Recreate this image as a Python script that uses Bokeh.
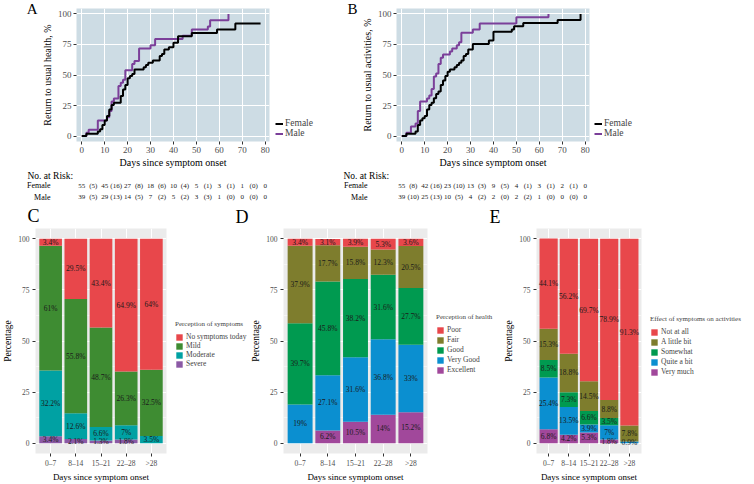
from bokeh.plotting import figure
from bokeh.models import (Range1d, FixedTicker, Legend, LegendItem, ColumnDataSource, LinearAxis)
from bokeh.layouts import column, row
from bokeh.embed import file_html
from bokeh.resources import INLINE
from bokeh.core.properties import value

FONT = "Liberation Serif"

# ---------------- data: Kaplan-Meier curves (cumulative %) ----------------
a_female_days = [0, 2, 7, 8, 9, 10, 11, 12, 13, 14, 17, 18, 19, 20, 21, 22, 23, 27, 28, 29, 31,
                 34, 35, 36, 38, 40, 42, 48, 59, 67, 78]
a_female_pct = [0, 1.8, 3.6, 5.5, 9.1, 12.7, 16.4, 21.8, 25.5, 27.3, 32.7, 38.2, 41.8, 47.3, 49.1,
                50.9, 54.5, 56.4, 58.2, 60.0, 61.8, 65.5, 67.3, 70.9, 72.7, 76.4, 81.8, 84.5, 87.3,
                92.2, 92.2]
a_male_days = [0, 2, 3, 7, 11, 12, 13, 14, 16, 17, 18, 19, 22, 23, 25, 30, 32, 44, 48, 55, 56, 64]
a_male_pct = [0, 2.6, 5.1, 12.8, 15.4, 20.5, 28.2, 30.8, 41.0, 43.6, 46.2, 53.8, 59.0, 61.5, 71.8,
              74.4, 79.5, 82.1, 87.2, 89.7, 94.9, 100]

b_female_days = [0, 2, 6, 7, 8, 9, 10, 11, 12, 13, 14, 15, 16, 17, 18, 19, 20, 21, 23, 24, 25, 26,
                 27, 28, 29, 31, 38, 40, 48, 49, 53, 68, 78]
b_female_pct = [0, 1.8, 3.6, 9.1, 12.7, 14.5, 16.4, 21.8, 25.5, 27.3, 30.9, 34.5, 36.4, 41.8, 45.5,
                49.1, 52.7, 54.5, 56.4, 58.2, 60.0, 61.8, 65.5, 67.3, 70.9, 75.4, 78.2, 85.5, 87.3,
                90.0, 92.7, 95.0, 100]
b_male_days = [0, 2, 4, 6, 7, 8, 11, 12, 13, 14, 15, 16, 17, 18, 21, 22, 24, 25, 26, 31, 34, 50, 64]
b_male_pct = [0, 2.6, 7.7, 10.3, 20.5, 28.2, 30.8, 33.3, 38.5, 48.7, 51.3, 59.0, 64.1, 66.7, 69.2,
              71.8, 74.4, 76.9, 84.6, 87.2, 92.3, 97.4, 100]

# numbers at risk (days 0,10,...,80) and events in brackets (days 5,15,...,75)
risk_days = [0, 10, 20, 30, 40, 50, 60, 70, 80]
event_days = [5, 15, 25, 35, 45, 55, 65, 75]
a_female_at_risk = [55, 45, 27, 18, 10, 5, 3, 1, 0]
a_female_events = [5, 16, 8, 6, 4, 1, 1, 0]
a_male_at_risk = [39, 29, 14, 7, 5, 3, 1, 0, 0]
a_male_events = [5, 13, 5, 2, 2, 3, 0, 0]
b_female_at_risk = [55, 42, 23, 13, 9, 4, 3, 2, 0]
b_female_events = [8, 16, 10, 3, 5, 1, 1, 1]
b_male_at_risk = [39, 25, 10, 4, 2, 2, 1, 0, 0]
b_male_events = [10, 13, 5, 2, 0, 2, 0, 0]

km_x_ticks = [0, 10, 20, 30, 40, 50, 60, 70, 80]
pct_ticks = [0, 25, 50, 75, 100]

# ---------------- data: stacked bars (bottom -> top) ----------------
day_groups = ["0\u20137", "8\u201314", "15\u201321", "22\u201328", ">28"]

sym_names = ["Severe", "Moderate", "Mild", "No symptoms today"]
sym_severe = [3.4, 2.1, 1.3, 1.8, 0]
sym_moderate = [32.2, 12.6, 6.6, 7.0, 3.5]
sym_mild = [61.0, 55.8, 48.7, 26.3, 32.5]
sym_none = [3.4, 29.5, 43.4, 64.9, 64.0]

hl_names = ["Excellent", "Very Good", "Good", "Fair", "Poor"]
hl_excellent = [0, 6.2, 10.5, 14.0, 15.2]
hl_verygood = [19.0, 27.1, 31.6, 36.8, 33.0]
hl_good = [39.7, 45.8, 38.2, 31.6, 27.7]
hl_fair = [37.9, 17.7, 15.8, 12.3, 20.5]
hl_poor = [3.4, 3.1, 3.9, 5.3, 3.6]

act_names = ["Very much", "Quite a bit", "Somewhat", "A little bit", "Not at all"]
act_verymuch = [6.8, 4.2, 5.3, 1.8, 0]
act_quiteabit = [25.4, 13.5, 3.9, 7.0, 0.9]
act_somewhat = [8.5, 7.3, 6.6, 3.5, 0]
act_littlebit = [15.3, 18.8, 14.5, 8.8, 7.8]
act_notatall = [44.1, 56.2, 69.7, 78.9, 91.3]

# ---------------- styles / geometry ----------------
RED = "#E8474B"
SYM_COLORS = ["#8B59A5", "#00A1A3", "#3E8C32", RED]
HL_COLORS = ["#A1489B", "#0B8FD0", "#009A50", "#7E7D2D", RED]
KM_BG = "#CDDCE4"
PURPLE = "#7B3F99"
TICK_COL = "#4D4D4D"

KM_XR = (-2.3, 81.9)
KM_YR = (-4.5, 104.5)
KM_FW, KM_FH = 193, 133
KM_TOP, KM_BOT = 8, 29
KM_H = KM_TOP + KM_FH + KM_BOT          # 170
RISK_H = 58
BAR_XR = (0.4, 5.6)
BAR_YR = (-5, 105)
BAR_FH, BAR_BOT = 230, 26
BAR_H = BAR_FH + BAR_BOT                # 256


def bare_figure(width, height, xr, yr):
    p = figure(width=width, height=height, x_range=xr, y_range=yr,
               output_backend="svg", toolbar_location=None,
               x_axis_location=None, y_axis_location=None,
               min_border=0, min_border_left=0, min_border_right=0,
               min_border_top=0, min_border_bottom=0)
    p.outline_line_color = None
    p.xgrid.visible = False
    p.ygrid.visible = False
    p.background_fill_color = "white"
    p.border_fill_color = "white"
    return p


def style_axes(p, tick_size, title_size, xlabel, ylabel):
    for ax in (p.xaxis[0], p.yaxis[0]):
        ax.axis_line_color = None
        ax.major_tick_line_color = "#333333"
        ax.major_tick_in = 0
        ax.major_tick_out = 3
        ax.minor_tick_line_color = None
        ax.major_label_text_font = FONT
        ax.major_label_text_font_size = tick_size
        ax.major_label_text_color = TICK_COL
        ax.major_label_standoff = 2
        ax.axis_label_text_font = FONT
        ax.axis_label_text_font_size = title_size
        ax.axis_label_text_font_style = "normal"
        ax.axis_label_text_color = "black"
        ax.axis_label_standoff = 2
    p.xaxis.axis_label = xlabel
    p.yaxis.axis_label = ylabel


def km_figure(left, f_days, f_pct, m_days, m_pct, ylabel, letter):
    p = figure(width=left + KM_FW + 2, height=KM_H, x_range=Range1d(*KM_XR),
               y_range=Range1d(*KM_YR), output_backend="svg", toolbar_location=None,
               min_border_left=left, min_border_right=2,
               min_border_top=KM_TOP, min_border_bottom=KM_BOT)
    p.background_fill_color = KM_BG
    p.outline_line_color = None
    p.xaxis.ticker = FixedTicker(ticks=km_x_ticks)
    p.yaxis.ticker = FixedTicker(ticks=pct_ticks)
    for g in (p.xgrid[0], p.ygrid[0]):
        g.grid_line_color = "white"
        g.grid_line_width = 1
    style_axes(p, "9px", "10px", "Days since symptom onset", ylabel)
    p.xaxis.axis_label_standoff = 1
    p.step(m_days, m_pct, mode="after", line_color=PURPLE, line_width=2)
    p.step(f_days, f_pct, mode="after", line_color="black", line_width=2)
    # panel letter as the single tick label of an outer, unlined axis
    p.extra_y_ranges = {"letter": Range1d(0, 1)}
    lax = LinearAxis(y_range_name="letter", ticker=FixedTicker(ticks=[1.0]),
                     major_label_overrides={1.0: letter})
    lax.axis_line_color = None
    lax.major_tick_line_color = None
    lax.minor_tick_line_color = None
    lax.major_label_text_font = FONT
    lax.major_label_text_font_size = "15px"
    lax.major_label_text_color = "black"
    lax.major_label_standoff = -5
    p.add_layout(lax, "left")
    return p


def km_legend_figure(width, dx):
    p = bare_figure(width, KM_H, Range1d(0, 1), Range1d(0, 1))
    # keys only: their data sit outside the (empty) view
    rf = p.line(x=[5, 6], y=[5, 5], line_color="black", line_width=2)
    rm = p.line(x=[5, 6], y=[5, 5], line_color=PURPLE, line_width=2)
    leg = Legend(items=[LegendItem(label="Female", renderers=[rf]),
                        LegendItem(label="Male", renderers=[rm])],
                 location=(dx, 3), padding=0, margin=0, spacing=0,
                 glyph_width=8, glyph_height=9, label_height=9, label_standoff=2,
                 label_text_font=FONT, label_text_font_size="9.5px",
                 background_fill_alpha=0, border_line_color=None)
    p.add_layout(leg)
    return p


def risk_figure(width, left, f_risk, f_ev, m_risk, m_ev, title_dx, lab_dx, letters):
    ppd = KM_FW / (KM_XR[1] - KM_XR[0])
    x0 = KM_XR[0] - left / ppd
    x1 = x0 + width / ppd
    p = bare_figure(width, RISK_H, Range1d(x0, x1), Range1d(RISK_H, 0))
    p.text(x=[KM_XR[0] + title_dx / ppd], y=[5], text=["No. at Risk:"], text_font=value(FONT),
           text_font_size="9.5px", text_align="left", text_baseline="middle", text_color="black")
    p.text(x=[KM_XR[0] + lab_dx / ppd] * 2, y=[15, 26.7], text=["Female", "Male"],
           text_font=value(FONT), text_font_size="8px", text_align="right",
           text_baseline="middle", text_color="black")
    for yy, rk, ev in ((15, f_risk, f_ev), (26.7, m_risk, m_ev)):
        xs = list(risk_days) + list(event_days)
        ts = [str(v) for v in rk] + ["(%d)" % v for v in ev]
        p.text(x=xs, y=[yy] * len(xs), text=ts, text_font=value(FONT), text_font_size="7px",
               text_align="center", text_baseline="middle", text_color="#1a1a1a")
    # letters of the panels below (x in px from this figure's left, centre y)
    for px, cy, t in letters:
        p.text(x=[x0 + px / ppd], y=[cy], text=[t], text_font=value(FONT),
               text_font_size="18px", text_align="left", text_baseline="middle",
               text_color="black")
    return p


def bar_figure(left, fw, series, colors):
    p = figure(width=left + fw + 2, height=BAR_H, x_range=Range1d(*BAR_XR),
               y_range=Range1d(*BAR_YR), output_backend="svg", toolbar_location=None,
               min_border_left=left, min_border_right=2,
               min_border_top=0, min_border_bottom=BAR_BOT)
    p.background_fill_color = "#EBEBEB"
    p.outline_line_color = None
    xs_cat = [1, 2, 3, 4, 5]
    p.xaxis.ticker = FixedTicker(ticks=xs_cat)
    p.xaxis.major_label_overrides = {i: g for i, g in zip(xs_cat, day_groups)}
    p.yaxis.ticker = FixedTicker(ticks=pct_ticks, minor_ticks=[12.5, 37.5, 62.5, 87.5])
    p.xgrid.grid_line_color = "white"
    p.ygrid.grid_line_color = "white"
    p.ygrid.minor_grid_line_color = "white"
    p.ygrid.minor_grid_line_width = 0.5
    style_axes(p, "7.5px", "9.5px", "Days since symptom onset", "Percentage")
    p.xaxis.axis_label_text_font_size = "9px"
    p.xaxis.axis_label_standoff = 1
    keys = ["s%d" % i for i in range(len(series))]
    data = {"x": xs_cat}
    for k, s in zip(keys, series):
        data[k] = s
    src = ColumnDataSource(data)
    p.vbar_stack(keys, x="x", width=0.9, fill_color=colors, line_color=None, source=src)
    lx, ly, lt = [], [], []
    for i in range(len(xs_cat)):
        base = 0.0
        for s in series:
            v = s[i]
            if v > 0:
                lx.append(xs_cat[i])
                ly.append(base + v / 2.0)
                lt.append("%g%%" % v)
            base += v
    p.text(x=lx, y=ly, text=lt, text_font=value(FONT), text_font_size="7.5px",
           text_align="center", text_baseline="middle", text_color="#1a1a1a")
    return p


def bar_legend_figure(width, names, colors, title, dx, bottom, spacing):
    p = bare_figure(width, BAR_H, Range1d(0, 1), Range1d(0, 1))
    # keys only: their data sit outside the (empty) view
    rs = [p.vbar(x=[5], top=[5], width=0.9, fill_color=c, line_color=None) for c in colors]
    items = [LegendItem(label=n, renderers=[r]) for n, r in zip(names, rs)][::-1]
    leg = Legend(items=items, title=title, location=(dx, bottom),
                 padding=0, margin=0, spacing=spacing,
                 glyph_width=8, glyph_height=8, label_height=8, label_standoff=3,
                 title_standoff=4,
                 label_text_font=FONT, label_text_font_size="7.5px",
                 title_text_font=FONT, title_text_font_size="7px",
                 title_text_font_style="normal",
                 background_fill_alpha=0, border_line_color=None)
    p.add_layout(leg)
    return p


kmA = km_figure(76, a_female_days, a_female_pct, a_male_days, a_male_pct,
                "Return to usual health, %", "A")            # 0 -> 271
legA = km_legend_figure(66, 4)                                # 271 -> 337
kmB = km_figure(59, b_female_days, b_female_pct, b_male_days, b_male_pct,
                "Return to usual activities, %", "B")         # 337 -> 591
legB = km_legend_figure(163, 3)                               # 591 -> 754

riskA = risk_figure(337, 76, a_female_at_risk, a_female_events, a_male_at_risk, a_male_events,
                    -49, -26, [(27, 45, "C"), (235, 46, "D")])
riskB = risk_figure(417, 59, b_female_at_risk, b_female_events, b_male_at_risk, b_male_events,
                    -53, -29, [(489 - 337, 46, "E")])

figC = bar_figure(32, 134, [sym_severe, sym_moderate, sym_mild, sym_none], SYM_COLORS)   # 0->168
legC = bar_legend_figure(80, sym_names, SYM_COLORS, "Perception of symptoms", 7, 85, 0)
figD = bar_figure(32, 147, [hl_excellent, hl_verygood, hl_good, hl_fair, hl_poor],
                  HL_COLORS)                                                            # 248->429
legD = bar_legend_figure(72, hl_names, HL_COLORS, "Perception of health", 7, 79, 1)
figE = bar_figure(31, 109, [act_verymuch, act_quiteabit, act_somewhat, act_littlebit,
                            act_notatall], HL_COLORS)                                   # 501->643
legE = bar_legend_figure(111, act_names, HL_COLORS, "Effect of symptoms on activities", 7, 77, 1)

layout = column(row(kmA, legA, kmB, legB), row(riskA, riskB),
                row(figC, legC, figD, legD, figE, legE))
open("out.html", "w").write(file_html(layout, INLINE))
